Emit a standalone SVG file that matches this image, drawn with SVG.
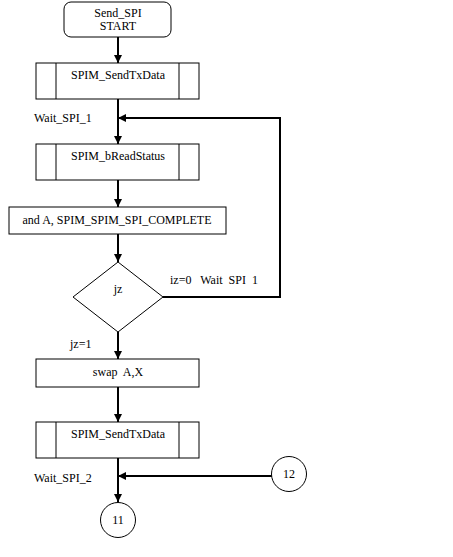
<svg xmlns="http://www.w3.org/2000/svg" width="453" height="557" viewBox="0 0 453 557">
<defs>
<marker id="ah" viewBox="0 0 8 8" refX="8" refY="4" markerWidth="8" markerHeight="8" markerUnits="userSpaceOnUse" orient="auto">
<path d="M0,0 L8,4 L0,8 Z" fill="#000"/>
</marker>
</defs>
<style>
.n{fill:#fff;stroke:#000;stroke-width:1}
.c{fill:none;stroke:#000;stroke-width:2}
.t{font-family:"Liberation Serif","Times New Roman",serif;font-size:12px;fill:#000}
.m{text-anchor:middle}
</style>
<rect width="453" height="557" fill="#fff"/>
<g id="connectors">
<line class="c" x1="118" y1="37" x2="118" y2="63" marker-end="url(#ah)"/>
<line class="c" x1="118" y1="99" x2="118" y2="144" marker-end="url(#ah)"/>
<polyline class="c" points="163,297 280,297 280,118 118,118" marker-end="url(#ah)"/>
<line class="c" x1="118" y1="180" x2="118" y2="207" marker-end="url(#ah)"/>
<line class="c" x1="118" y1="234" x2="118" y2="262" marker-end="url(#ah)"/>
<line class="c" x1="118" y1="332" x2="118" y2="359" marker-end="url(#ah)"/>
<line class="c" x1="118" y1="387" x2="118" y2="422" marker-end="url(#ah)"/>
<line class="c" x1="118" y1="458" x2="118" y2="502" marker-end="url(#ah)"/>
<line class="c" x1="272" y1="476" x2="118" y2="476" marker-end="url(#ah)"/>
<text class="t" x="34" y="122">Wait_SPI_1</text>
<text class="t" x="170" y="284" xml:space="preserve">iz=0   Wait  SPI  1</text>
<text class="t" x="70" y="348">jz=1</text>
<text class="t" x="34" y="482">Wait_SPI_2</text>
</g>
<g id="start">
<rect class="n" x="64" y="2" width="107" height="35" rx="7"/>
<text class="t m" x="118" y="17">Send_SPI</text>
<text class="t m" x="118" y="30">START</text>
</g>
<g id="sendtx1">
<rect class="n" x="36" y="63" width="163" height="36"/>
<line class="n" x1="56" y1="63" x2="56" y2="99"/>
<line class="n" x1="179" y1="63" x2="179" y2="99"/>
<text class="t m" x="118" y="79">SPIM_SendTxData</text>
</g>
<g id="readstatus">
<rect class="n" x="36" y="144" width="163" height="36"/>
<line class="n" x1="56" y1="144" x2="56" y2="180"/>
<line class="n" x1="179" y1="144" x2="179" y2="180"/>
<text class="t m" x="118" y="160">SPIM_bReadStatus</text>
</g>
<g id="andA">
<rect class="n" x="9" y="207" width="217" height="27"/>
<text class="t m" x="117" y="224">and A, SPIM_SPIM_SPI_COMPLETE</text>
</g>
<g id="jz">
<polygon class="n" points="118,262 163,297 118,332 73,297"/>
<text class="t m" x="118" y="293">jz</text>
</g>
<g id="swap">
<rect class="n" x="36" y="359" width="163" height="28"/>
<text class="t m" x="118" y="376" xml:space="preserve">swap  A,X</text>
</g>
<g id="sendtx2">
<rect class="n" x="36" y="422" width="163" height="36"/>
<line class="n" x1="56" y1="422" x2="56" y2="458"/>
<line class="n" x1="179" y1="422" x2="179" y2="458"/>
<text class="t m" x="118" y="438">SPIM_SendTxData</text>
</g>
<g id="c11">
<circle class="n" cx="118" cy="520" r="17.5"/>
<text class="t m" x="118" y="524">11</text>
</g>
<g id="c12">
<circle class="n" cx="289" cy="474" r="17.5"/>
<text class="t m" x="289" y="478">12</text>
</g>
</svg>
